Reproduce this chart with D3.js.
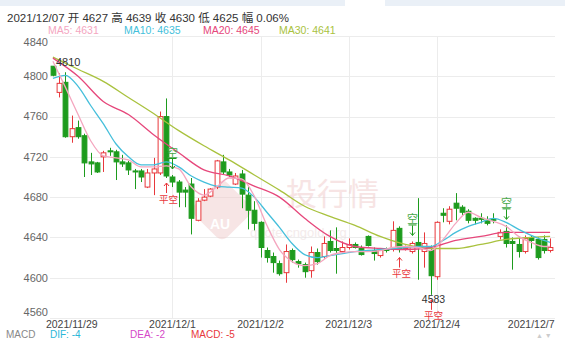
<!DOCTYPE html>
<html>
<head>
<meta charset="utf-8">
<script src="https://cdn.jsdelivr.net/npm/d3@7/dist/d3.min.js"></script>
<style>
  body { margin: 0; background: #fff; }
  svg { display: block; font-family: Arial, "Liberation Sans", "Noto Sans CJK SC", sans-serif; }
</style>
</head>
<body>
<div id="chart"></div>
<script>
// 60-minute candles, 2021/11/29 .. 2021/12/7
const opens  = [4810,4784,4794,4740,4749,4741,4715,4714,4720,4726, 4725,4715,4714,4706,4706,4690,4704,4704,4760,4700,
                4695,4687,4693,4657,4677,4681,4690,4715,4705,4693, 4703,4682,4667,4655,4627,4621,4614,4605,4627,4616,
                4613,4607,4625,4621,4636,4629,4626,4630,4633,4629, 4641,4627,4622,4628,4628,4649,4629,4626,4635,4626,
                4627,4601,4664,4656,4674,4670,4666,4659,4659,4657, 4658,4641,4646,4636,4633,4626,4640,4638,4638,4627];
const highs  = [4810,4803,4804,4761,4756,4743,4724,4715,4726,4729, 4727,4722,4716,4708,4708,4708,4719,4765,4778,4702,
                4697,4690,4699,4679,4688,4689,4717,4722,4708,4704, 4707,4690,4676,4656,4630,4625,4617,4633,4629,4618,
                4615,4631,4629,4641,4647,4650,4636,4639,4635,4632, 4642,4630,4629,4630,4656,4651,4632,4636,4679,4645,
                4632,4656,4669,4671,4684,4672,4668,4660,4664,4661, 4664,4648,4652,4640,4640,4642,4642,4640,4642,4639];
const lows   = [4800,4779,4739,4734,4738,4700,4702,4704,4705,4721, 4697,4710,4702,4688,4695,4689,4682,4702,4699,4690,
                4670,4670,4643,4656,4676,4680,4688,4703,4700,4692, 4669,4648,4647,4620,4615,4605,4602,4595,4615,4610,
                4600,4600,4613,4619,4625,4604,4624,4628,4629,4622, 4631,4617,4620,4625,4626,4625,4627,4624,4598,4610,
                4583,4598,4655,4653,4657,4662,4654,4653,4654,4652, 4654,4638,4630,4608,4620,4624,4629,4618,4624,4625];
const closes = [4801,4793,4740,4748,4740,4714,4713,4705,4724,4725, 4715,4713,4707,4705,4700,4704,4708,4760,4701,4695,
                4685,4685,4659,4676,4680,4688,4716,4705,4702,4701, 4683,4667,4654,4630,4620,4615,4604,4626,4618,4614,
                4606,4625,4616,4634,4627,4627,4630,4633,4630,4623, 4632,4624,4627,4627,4647,4628,4630,4634,4630,4634,
                4602,4655,4662,4668,4669,4665,4657,4657,4658,4654, 4657,4645,4634,4634,4626,4639,4637,4620,4627,4630];

// moving averages at candle indices
const maIdxFine = [0,2,4,6,8,10,12,14,16,18,20,22,24,26,28,30,32,34,36,38,40,
                   42,44,46,48,50,52,54,56,58,60,62,64,66,68,70,72,74,76,78,79];
const ma5  = [4815,4789,4762,4736,4721,4719,4717,4710,4710,4711,4708,4690,4682,4690,4699,4698,4681,4652,4628,4616,4612,
              4614,4622,4625,4626,4626,4627,4630,4631,4630,4627,4638,4654,4665,4660,4656,4651,4641,4635,4631,4631];
const ma10 = [4798,4801,4790,4771,4753,4733,4720,4712,4712,4715,4710,4701,4695,4691,4690,4689,4680,4665,4650,4634,4623,
              4620,4622,4624,4626,4627,4628,4629,4630,4631,4631,4637,4645,4651,4655,4659,4655,4648,4642,4637,4635];
const maIdxCoarse = [0,4,8,12,16,20,24,28,32,36,40,44,48,52,56,60,64,68,72,76,79];
const ma20 = [4818,4800,4775,4762,4742,4724,4707,4701,4691,4680,4659,4641,4631,4629,4628,4630,4637,4641,4645,4645,4645];
const ma30 = [4819,4807,4795,4779,4763,4746,4731,4717,4702,4687,4671,4661,4652,4641,4633,4629,4629,4633,4638,4640,4641];

const yTicks = [4560,4600,4640,4680,4720,4760,4800,4840];
const dateIdx = [3,19,33,47,61,76];
const dateLabels = ["2021/11/29","2021/12/1","2021/12/2","2021/12/3","2021/12/4","2021/12/7"];
const gridIdx = [19,33,47,61];

const shortIdx = [19,57,72];       // 空
const coverIdx = [18,55,60];       // 平空
const maxIdx = 0, minIdx = 60;

const RED = "#e8383c", GREEN = "#1d9b1d";
const C5 = "#f4a6bf", C10 = "#45bfdb", C20 = "#e6477b", C30 = "#a9c23e";

const W = 565, H = 339;
const svg = d3.select("#chart").append("svg").attr("width", W).attr("height", H);

// top tab strip
svg.append("rect").attr("x", 0).attr("y", 0).attr("width", 345).attr("height", 6).attr("fill", "#eaf0f7");
svg.append("rect").attr("x", 385).attr("y", 0).attr("width", 180).attr("height", 6).attr("fill", "#eaf0f7");

const x = d3.scaleBand().domain(d3.range(opens.length)).range([49, 554]).padding(0.24);
const xc = i => x(i) + x.bandwidth() / 2;
const y = d3.scaleLinear().domain([4560, 4840]).range([318, 36]);
const left = 50, right = 555;

// grid
const grid = svg.append("g").attr("stroke", "#ececec").attr("stroke-width", 1);
grid.selectAll("line.h").data(yTicks).join("line")
  .attr("x1", left).attr("x2", right)
  .attr("y1", d => Math.round(y(d)) + 0.5).attr("y2", d => Math.round(y(d)) + 0.5);
grid.selectAll("line.v").data(gridIdx).join("line")
  .attr("x1", d => Math.round(xc(d)) + 0.5).attr("x2", d => Math.round(xc(d)) + 0.5)
  .attr("y1", y(4840)).attr("y2", y(4560));

// y labels
svg.append("g").selectAll("text").data(yTicks).join("text")
  .attr("x", 48)
  .attr("y", d => Math.min(Math.max(y(d), 42), 312))
  .attr("dy", "0.35em")
  .attr("text-anchor", "end")
  .attr("font-size", 11).attr("fill", "#666")
  .text(d => d);

// x labels
svg.append("g").selectAll("text").data(dateIdx).join("text")
  .attr("x", d => xc(d)).attr("y", 327.5)
  .attr("text-anchor", "middle")
  .attr("font-size", 10.5).attr("fill", "#444")
  .text((d, i) => dateLabels[i]);

// watermark
const wm = svg.append("g").attr("opacity", 0.5);
wm.append("rect").attr("x", -23).attr("y", -23).attr("width", 46).attr("height", 46).attr("rx", 8)
  .attr("transform", "translate(222,210) rotate(45)").attr("fill", "#f1cccc");
wm.append("text").attr("x", 210).attr("y", 229).attr("font-size", 14).attr("fill", "#fff")
  .attr("font-weight", "bold").text("AU");
wm.append("text").attr("x", 286).attr("y", 205).attr("font-size", 31).attr("fill", "#f0caca")
  .text("投行情");
wm.append("text").attr("x", 250).attr("y", 237).attr("font-size", 13).attr("fill", "#ead8d8")
  .text("quote.cngold.org");

// candles
const candles = svg.append("g");
const bw = x.bandwidth();
opens.forEach((o, i) => {
  const c = closes[i], up = c >= o, col = up ? RED : GREEN;
  const cx = Math.round(xc(i)) + 0.5;
  candles.append("line").attr("x1", cx).attr("x2", cx)
    .attr("y1", y(highs[i])).attr("y2", y(lows[i])).attr("stroke", col);
  const top = y(Math.max(o, c)), bot = y(Math.min(o, c));
  candles.append("rect")
    .attr("x", cx - bw / 2).attr("y", top)
    .attr("width", bw).attr("height", Math.max(1, bot - top))
    .attr("fill", up ? "#fff" : col).attr("stroke", col).attr("stroke-width", 1);
});

// moving averages
const line = d3.line().x(d => xc(d[0])).y(d => y(d[1])).curve(d3.curveMonotoneX);
const mas = [[maIdxCoarse, ma30, C30], [maIdxCoarse, ma20, C20], [maIdxFine, ma10, C10], [maIdxFine, ma5, C5]];
mas.forEach(([idx, vals, col]) => {
  svg.append("path").datum(idx.map((d, k) => [d, vals[k]]))
    .attr("fill", "none").attr("stroke", col).attr("stroke-width", 1.3).attr("d", line);
});

// signals
const sig = svg.append("g");
shortIdx.forEach(i => {
  const cx = Math.round(xc(i)) + 0.5, tip = y(highs[i]) - 6;
  sig.append("line").attr("x1", cx).attr("x2", cx).attr("y1", tip - 10).attr("y2", tip).attr("stroke", GREEN);
  sig.append("path").attr("d", `M${cx - 2.5},${tip - 3}L${cx},${tip}L${cx + 2.5},${tip - 3}`)
    .attr("fill", "none").attr("stroke", GREEN);
  sig.append("line").attr("x1", cx - 4).attr("x2", cx + 4).attr("y1", tip - 10.5).attr("y2", tip - 10.5)
    .attr("stroke", GREEN);
  sig.append("text").attr("x", cx).attr("y", tip - 12).attr("text-anchor", "middle")
    .attr("font-size", 11).attr("fill", "#4aa84a").text("空");
});

coverIdx.forEach(i => {
  const cx = Math.round(xc(i)) + 0.5, top = y(lows[i]) + 5;
  sig.append("line").attr("x1", cx).attr("x2", cx).attr("y1", top).attr("y2", top + 10).attr("stroke", RED);
  sig.append("path").attr("d", `M${cx - 2.5},${top + 3}L${cx},${top}L${cx + 2.5},${top + 3}`)
    .attr("fill", "none").attr("stroke", RED);
  sig.append("text").attr("x", cx + 2).attr("y", top + 19.5).attr("text-anchor", "middle")
    .attr("font-size", 9.5).attr("fill", RED).text("平空");
});

// max / min labels
svg.append("text").attr("x", xc(maxIdx) + 3).attr("y", y(highs[maxIdx]))
  .attr("font-size", 11).attr("fill", "#333").text(highs[maxIdx]);
svg.append("text").attr("x", xc(minIdx) + 3).attr("y", y(lows[minIdx]) + 8.5)
  .attr("text-anchor", "middle").attr("font-size", 10.5).attr("fill", "#333").text(lows[minIdx]);

// header
const last = opens.length - 1;
const pct = ((closes[last] - opens[last]) / opens[last] * 100).toFixed(2);
svg.append("text").attr("x", 7).attr("y", 22).attr("font-size", 11.5).attr("fill", "#333")
  .attr("xml:space", "preserve")
  .text(`2021/12/07 开 ${opens[last]} 高 ${highs[last]} 收 ${closes[last]} 低 ${lows[last]} 幅 ${pct}%`);

const legend = [["MA5: ", ma5, C5, 48], ["MA10: ", ma10, C10, 124], ["MA20: ", ma20, C20, 203], ["MA30: ", ma30, C30, 279]];
svg.append("g").selectAll("text").data(legend).join("text")
  .attr("x", d => d[3]).attr("y", 34).attr("font-size", 10.5).attr("fill", d => d[2])
  .text(d => d[0] + d[1][d[1].length - 1]);

// macd row
const macd = [["MACD", "#888", 6], ["DIF: -4", "#2ab7d8", 50], ["DEA: -2", "#d548c8", 130], ["MACD: -5", "#e8383c", 191]];
svg.append("g").selectAll("text").data(macd).join("text")
  .attr("x", d => d[2]).attr("y", 338).attr("font-size", 10).attr("fill", d => d[1])
  .text(d => d[0]);
svg.append("text").attr("x", 536).attr("y", 338).attr("font-size", 7).attr("fill", "#ccc").text("▲ ▼");
</script>
</body>
</html>
